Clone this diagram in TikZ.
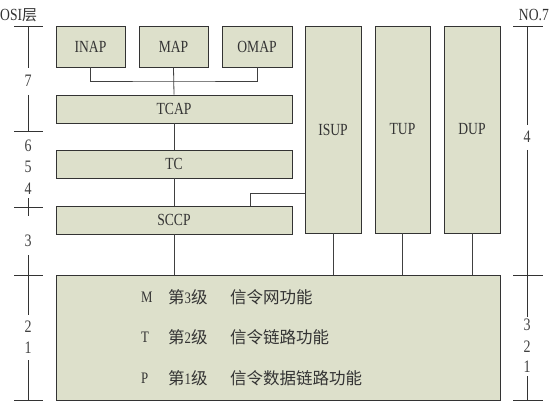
\documentclass[tikz,border=0pt]{standalone}
\usepackage{fontspec}
\setmainfont{Liberation Serif}[FakeStretch=0.8]
\newfontfamily\cjk{Noto Sans CJK SC}
\newcommand{\zh}[1]{{\cjk\fontsize{16.5}{16.5}\selectfont #1}}
\begin{document}
\begin{tikzpicture}[x=1pt,y=-1pt,
  blk/.style={draw=black!80, fill=boxfill, line width=0.8pt, inner sep=0pt, text=black!80, font=\fontsize{17}{17}\selectfont},
  wire/.style={draw=black!75, line width=0.8pt},
  scl/.style={draw=black!80, line width=0.7pt},
  lab/.style={inner sep=0pt, font=\fontsize{17.5}{17.5}\selectfont, text=black!75},
  row/.style={anchor=west, inner sep=0pt, font=\fontsize{16}{16}\selectfont, text=black!80}]
\definecolor{boxfill}{RGB}{221,224,203}
\useasboundingbox (0,0) rectangle (549,409);
% boxes
\node[blk, minimum width=69pt, minimum height=41pt] (inap) at (90.5,46.5) {INAP};
\node[blk, minimum width=69pt, minimum height=41pt] (map) at (173.5,46.5) {MAP};
\node[blk, minimum width=70pt, minimum height=41pt] (omap) at (257,46.5) {OMAP};
\node[blk, minimum width=236pt, minimum height=28pt] (tcap) at (174,109) {TCAP};
\node[blk, minimum width=236pt, minimum height=28pt] (tc) at (174,164) {TC};
\node[blk, minimum width=236pt, minimum height=28pt] (sccp) at (174,220) {SCCP};
\node[blk, minimum width=56pt, minimum height=207pt] (isup) at (333,129.5) {ISUP};
\node[blk, minimum width=55pt, minimum height=207pt] (tup) at (402.5,129.5) {TUP};
\node[blk, minimum width=56pt, minimum height=207pt] (dup) at (472,129.5) {DUP};
\node[blk, minimum width=444pt, minimum height=125pt] (mtp) at (278,337.5) {};
% text in bottom box
\node[row] (m1) at (141,297) {M};
\node[row] (m2) at (168,297) {\zh{第}3\zh{级}};
\node[row] (m3) at (230,297) {\zh{信令网功能}};
\node[row] (t1) at (141,337) {T};
\node[row] (t2) at (168,337) {\zh{第}2\zh{级}};
\node[row] (t3) at (230,337) {\zh{信令链路功能}};
\node[row] (p1) at (141,378) {P};
\node[row] (p2) at (168,378) {\zh{第}1\zh{级}};
\node[row] (p3) at (230,378) {\zh{信令数据链路功能}};
% connectors
\coordinate (bus) at (174,81);
\draw[wire] (inap.south) |- (bus) -| (omap.south);
\draw[wire] (map.south) -- (tcap.north);
\draw[wire] (tcap.south) -- (tc.north);
\draw[wire] (tc.south) -- (sccp.north);
\coordinate (sj) at (250,193);
\draw[wire] (sccp.north -| sj) -- (sj) -- (sj -| isup.west);
\draw[wire] (sccp.south) -- (sccp.south |- mtp.north);
\draw[wire] (isup.south) -- (isup.south |- mtp.north);
\draw[wire] (tup.south) -- (tup.south |- mtp.north);
\draw[wire] (dup.south) -- (dup.south |- mtp.north);
% left scale
\node[inner sep=0pt, anchor=west, font=\fontsize{17}{17}\selectfont, text=black!80] (osi) at (0,15) {OSI{\cjk\fontsize{15}{15}\selectfont 层}};
\node[lab] (l7) at (28,81) {7};
\node[lab] (l6) at (28,146) {6};
\node[lab] (l5) at (28,167) {5};
\node[lab] (l4) at (28,189) {4};
\node[lab] (l3) at (28,241) {3};
\node[lab] (l2) at (28,327) {2};
\node[lab] (l1) at (28,348) {1};
\draw[scl] (14,26) -- (43,26) (28,26) -- (28,68);
\draw[scl] (28,95) -- (28,131) (14,131) -- (43,131);
\draw[scl] (28,198) -- (28,216) (14,207) -- (43,207);
\draw[scl] (28,255) -- (28,315) (14,275) -- (43,275);
\draw[scl] (28,360) -- (28,400) (14,400) -- (43,400);
% right scale
\node[inner sep=0pt, anchor=east, font=\fontsize{17}{17}\selectfont, text=black!80] (no7) at (549,15) {NO.7};
\node[lab] (r4) at (527,137) {4};
\node[lab] (r3) at (527,325) {3};
\node[lab] (r2) at (527,347) {2};
\node[lab] (r1) at (527,367) {1};
\draw[scl] (513,26) -- (543,26) (527,26) -- (527,125);
\draw[scl] (527,150) -- (527,317) (513,275) -- (543,275);
\draw[scl] (527,376) -- (527,400) (513,400) -- (543,400);
\end{tikzpicture}
\end{document}
